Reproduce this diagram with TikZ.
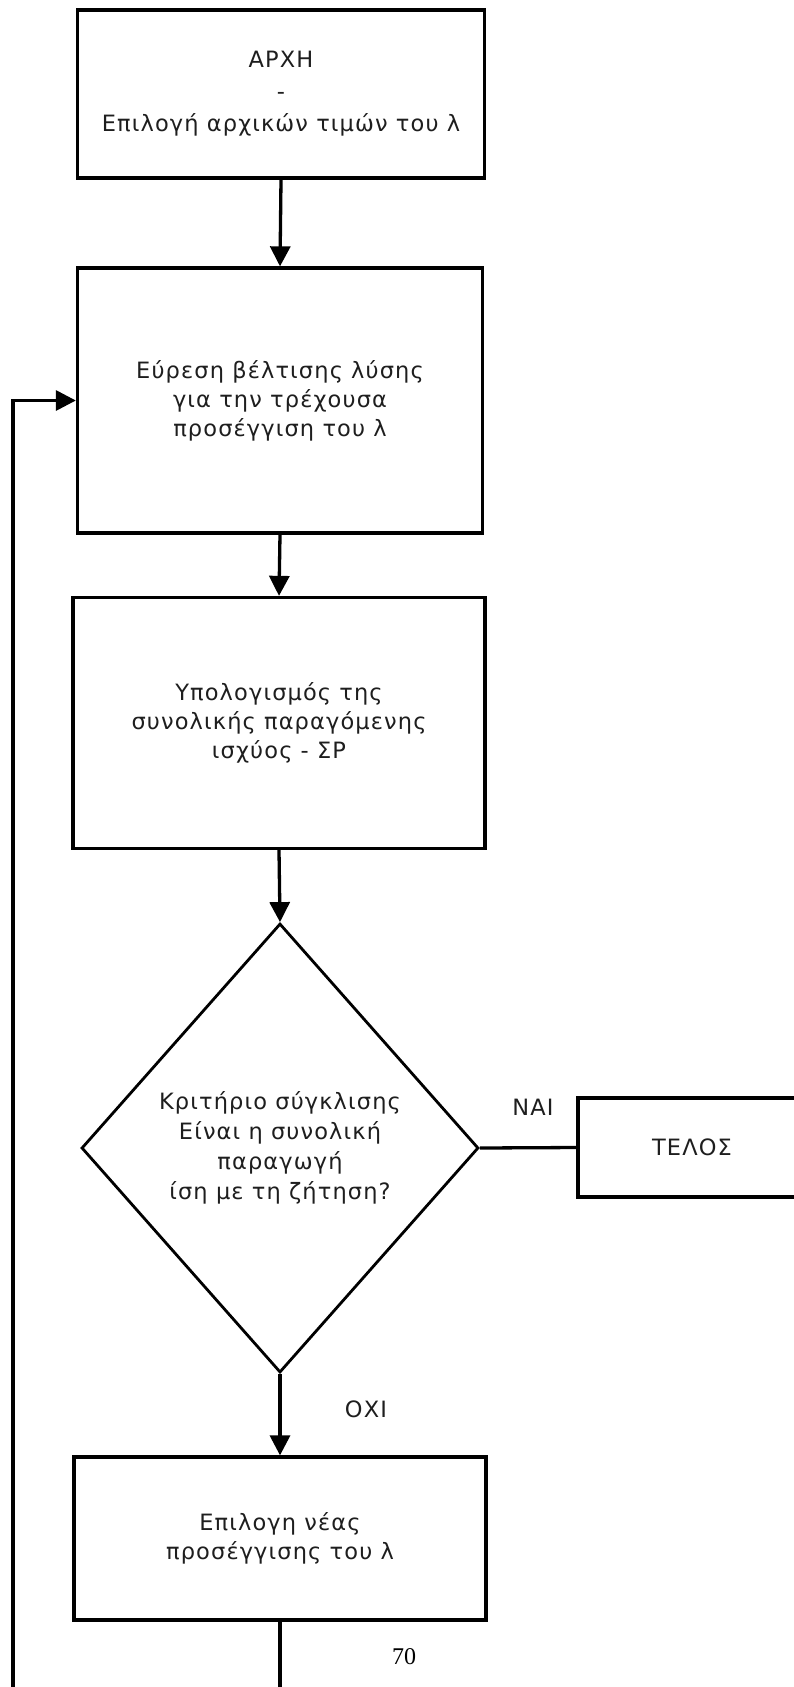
\documentclass[tikz,border=0pt]{standalone}
\usepackage{fontspec}
\setmainfont{DejaVu Sans}
\newfontfamily\flowfamily[LetterSpace=5]{DejaVu Sans}
\newfontfamily\pagefamily{Liberation Serif}
\usetikzlibrary{shapes.geometric, arrows.meta}
\definecolor{ink}{HTML}{1E1E1E}

\tikzset{
  stepbox/.style={draw, line width=3.3pt, align=center, text=ink, inner sep=0pt,
    font=\flowfamily\fontsize{22.5}{29}\selectfont},
  decision/.style={stepbox, shape=diamond, line width=2.8pt, aspect=1,
    font=\flowfamily\fontsize{22.5}{30}\selectfont},
  flowline/.style={line width=3.3pt},
  flowlabel/.style={text=ink, inner sep=0pt, font=\flowfamily\fontsize{22.5}{24}\selectfont}
}

\begin{document}
\begin{tikzpicture}[x=1pt, y=-1pt, >={Triangle[length=20pt, width=20pt]}]
  \useasboundingbox (0,0) rectangle (794,1687);
  \clip (0,0) rectangle (794,1687);
  \node[stepbox, minimum width=407pt, minimum height=168pt,
    font=\flowfamily\fontsize{22.5}{32}\selectfont] (start) at (281,94)
    {ΑΡΧΗ\\-\\Επιλογή αρχικών τιμών του λ};
  \node[stepbox, minimum width=405pt, minimum height=265pt] (search) at (280,400.5)
    {Εύρεση βέλτισης λύσης\\για την τρέχουσα\\προσέγγιση του λ};
  \node[stepbox, minimum width=412pt, minimum height=251pt] (power) at (279,723)
    {Υπολογισμός της\\συνολικής παραγόμενης\\ισχύος - ΣΡ};
  \node[decision, minimum width=397pt, minimum height=449pt] (check) at (280,1148)
    {Κριτήριο σύγκλισης\\Είναι η συνολική\\παραγωγή\\ίση με τη ζήτηση?};
  \node[stepbox, minimum width=228pt, minimum height=99pt] (finish) at (692,1147.5)
    {ΤΕΛΟΣ};
  \node[stepbox, minimum width=412pt, minimum height=163pt] (newlambda) at (280,1538.5)
    {Επιλογη νέας\\προσέγγισης του λ};
  \node[flowlabel] (yes) at (533,1107) {ΝΑΙ};
  \node[flowlabel] (no) at (366,1409) {ΟΧΙ};
  \node[inner sep=0pt, font=\pagefamily\fontsize{24}{24}\selectfont] (pagenum) at (404,1657) {70};
  \coordinate (loopcorner) at (13,1730);

  \draw[flowline, ->] (start.south) -- (search.north);
  \draw[flowline, ->] (search.south) -- (power.north);
  \draw[flowline, ->] (power.south) -- (check.north);
  \draw[flowline] (check.east) -- (finish.west);
  \draw[flowline, ->] (check.south) -- (newlambda.north);
  \draw[flowline, ->] (newlambda.south) |- (loopcorner) |- (search.west);
\end{tikzpicture}
\end{document}
